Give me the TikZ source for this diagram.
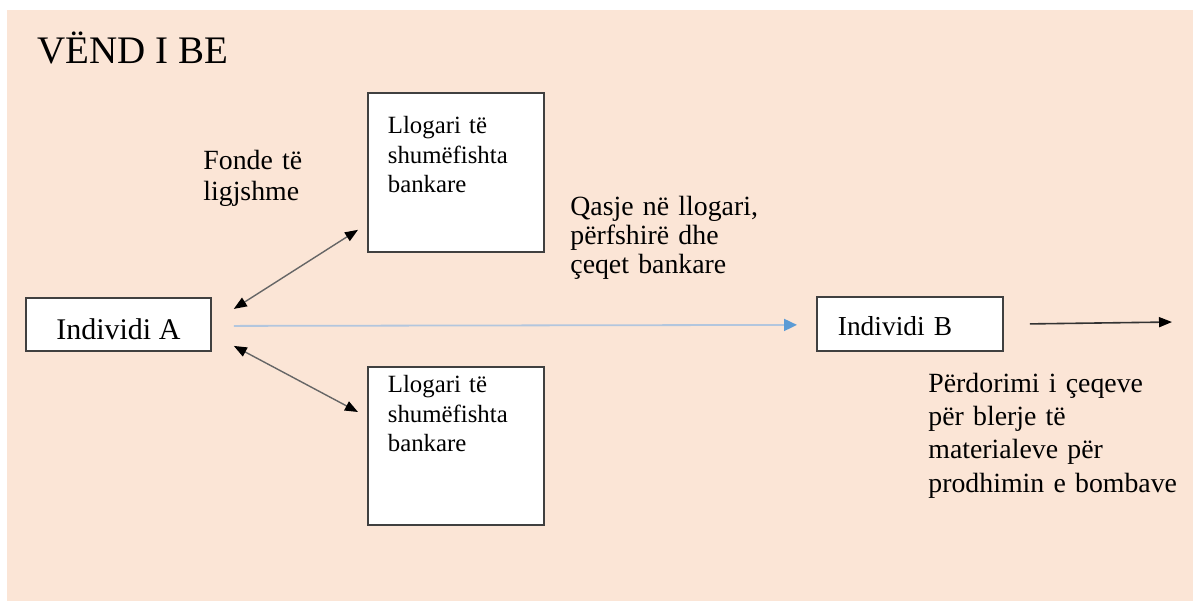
\documentclass[tikz,border=0pt]{standalone}
\usepackage{fontspec}
\setmainfont{Liberation Serif}
\usetikzlibrary{arrows.meta}
\definecolor{bgpeach}{RGB}{251,229,214}
\definecolor{flowblue}{RGB}{91,155,213}
\definecolor{flowline}{RGB}{178,198,222}
\tikzset{x=0.5pt,y=-0.5pt,>={Triangle[length=6.5pt,width=5pt,color=black]},
  box/.style={draw=black!75,line width=0.9pt,fill=white,inner ysep=0pt,anchor=north west},
  acct/.style={box,inner xsep=10pt,text width=68pt,align=left,font=\fontsize{12.4}{14.7}\selectfont},
  person/.style={box,font=\fontsize{13.7}{16}\selectfont},
  note/.style={anchor=base west,inner sep=0pt,align=left,font=\fontsize{13.9}{#1}\selectfont},
  link/.style={<->,draw=black!60,line width=0.7pt}}

\begin{document}
\begin{tikzpicture}
              \useasboundingbox (0,0) rectangle (1193,601);
              \fill[bgpeach] (7,10) rectangle (1193,601);

              \node[anchor=base west,inner sep=0pt,font=\fontsize{19.5}{23}\selectfont] (title) at (37,63) {VËND I BE};

              \node[person,minimum width=92.5pt,text height=21pt,text depth=5.5pt,font=\fontsize{15}{18}\selectfont] (indA) at (25,297) {Individi A};
              \node[person,text width=72pt,inner xsep=10.5pt,align=left,text height=19.5pt,text depth=7.5pt] (indB) at (816,296) {Individi B};

              \node[acct,text height=20.5pt,text depth=59pt] (acctup) at (367,92) {Llogari të\\ shumëfishta\\ bankare};
              \node[acct,text height=13pt,text depth=66pt] (acctlow) at (367,366) {Llogari të\\ shumëfishta\\ bankare};

              \node[note=15.5pt,text width=60pt] (funds) at (203,169) {Fonde të\\ ligjshme};
              \node[note=14.5pt,text width=100pt] (access) at (570,215) {Qasje në llogari,\\ përfshirë dhe\\ çeqet bankare};
              \node[note=16.7pt,text width=135pt] (usage) at (928,392) {Përdorimi i çeqeve\\ për blerje të\\ materialeve për\\ prodhimin e bombave};

              \coordinate (out) at (1172,322);

              \draw[link] ([shift={(22,-15.5)}]indA.east) -- ([shift={(-9,-23)}]acctup.south west);
              \draw[link] ([shift={(22,21.5)}]indA.east) -- ([shift={(-9,46)}]acctlow.north west);
              \draw[flowline,line width=0.9pt,-{Triangle[length=6.5pt,width=6pt,color=flowblue]}]
                ([shift={(22,1.5)}]indA.east) -- ([shift={(-19,1)}]indB.west);
              \draw[black!80,line width=0.8pt,->] ([shift={(26,0)}]indB.east) -- (out);
\end{tikzpicture}
\end{document}
